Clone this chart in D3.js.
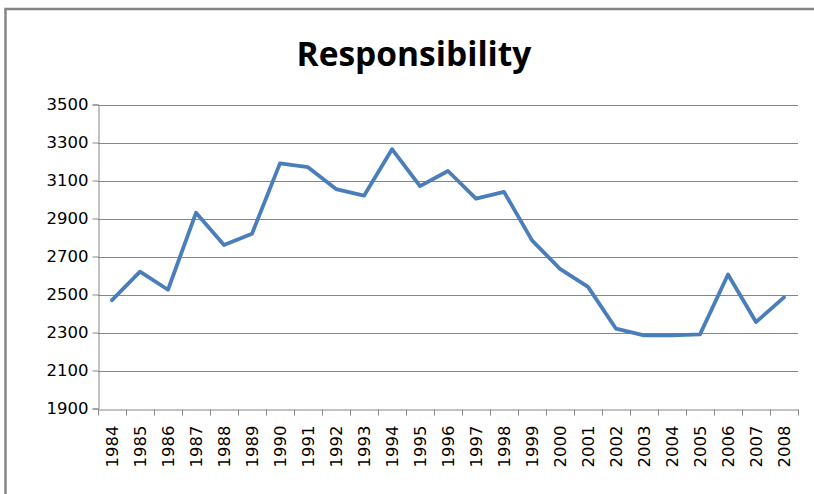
<!DOCTYPE html>
<html>
<head>
<meta charset="utf-8">
<script src="https://cdn.jsdelivr.net/npm/d3@7"></script>
<style>
  html, body { margin: 0; padding: 0; background: #ffffff; }
  svg { display: block; }
</style>
</head>
<body>
<div id="chart"></div>
<script>
// Yearly series
const years = ["1984","1985","1986","1987","1988","1989","1990","1991","1992","1993","1994","1995","1996","1997","1998","1999","2000","2001","2002","2003","2004","2005","2006","2007","2008"];
const values = [2470,2620,2525,2930,2760,2820,3190,3170,3055,3020,3265,3070,3150,3005,3040,2785,2635,2540,2320,2285,2285,2290,2605,2355,2485];
const yTicks = [1900,2100,2300,2500,2700,2900,3100,3300,3500];
const chartTitle = "Responsibility";

const W = 814, H = 494;
const plot = { left: 98, right: 798, top: 104.5, bottom: 408.5 };

const svg = d3.select("#chart").append("svg")
  .attr("width", W).attr("height", H);

// Chart-area frame
svg.append("rect")
  .attr("x", 5.5).attr("y", 9).attr("width", W + 20).attr("height", H + 20)
  .attr("fill", "#ffffff").attr("stroke", "#868686").attr("stroke-width", 2.5);

// Title
svg.append("text")
  .attr("x", 414).attr("y", 66)
  .attr("text-anchor", "middle")
  .attr("font-family", "'Open Sans', sans-serif")
  .attr("font-weight", "bold")
  .attr("font-size", 33.5)
  .attr("fill", "#000")
  .text(chartTitle);

const x = d3.scaleBand().domain(years).range([plot.left, plot.right]);
const y = d3.scaleLinear().domain([1900, 3500]).range([plot.bottom, plot.top]);

// Horizontal gridlines
svg.append("g")
  .selectAll("line")
  .data(yTicks.slice(1))
  .join("line")
  .attr("x1", plot.left).attr("x2", plot.right)
  .attr("y1", d => Math.round(y(d)) + 0.5).attr("y2", d => Math.round(y(d)) + 0.5)
  .attr("stroke", "#868686").attr("stroke-width", 1);

// Y axis
const yAxis = d3.axisLeft(y).tickValues(yTicks).tickSize(6).tickPadding(4).tickFormat(d3.format("d"));
const gy = svg.append("g")
  .attr("transform", `translate(${plot.left + 0.5},0)`)
  .call(yAxis);
gy.select(".domain").attr("stroke", "#868686");
gy.selectAll(".tick line").attr("stroke", "#868686");
gy.selectAll(".tick text")
  .attr("font-family", "'DejaVu Sans', sans-serif")
  .attr("font-size", 16.5).attr("fill", "#000");

// X axis with ticks between categories
const gx = svg.append("g")
  .attr("transform", `translate(0,${Math.round(plot.bottom) + 0.5})`)
  .call(d3.axisBottom(x).tickSize(0).tickPadding(0));
gx.select(".domain").attr("stroke", "#868686");
const bounds = years.map(d => x(d)).concat([plot.right]);
gx.selectAll(".sep")
  .data(bounds)
  .join("line")
  .attr("class", "sep")
  .attr("x1", d => Math.round(d) + 0.5).attr("x2", d => Math.round(d) + 0.5)
  .attr("y1", 0).attr("y2", 6)
  .attr("stroke", "#868686");
gx.selectAll(".tick text")
  .attr("font-family", "'DejaVu Sans', sans-serif")
  .attr("font-size", 16.5).attr("fill", "#000")
  .attr("text-anchor", "end")
  .attr("dy", "0.35em")
  .attr("transform", "translate(0,16) rotate(-90)");

// Series line
const line = d3.line()
  .x((d, i) => x(years[i]) + x.bandwidth() / 2)
  .y(d => y(d));
svg.append("path")
  .datum(values)
  .attr("fill", "none")
  .attr("stroke", "#4A7EBB")
  .attr("stroke-width", 3.8)
  .attr("stroke-linejoin", "round")
  .attr("stroke-linecap", "round")
  .attr("d", line);
</script>
</body>
</html>
